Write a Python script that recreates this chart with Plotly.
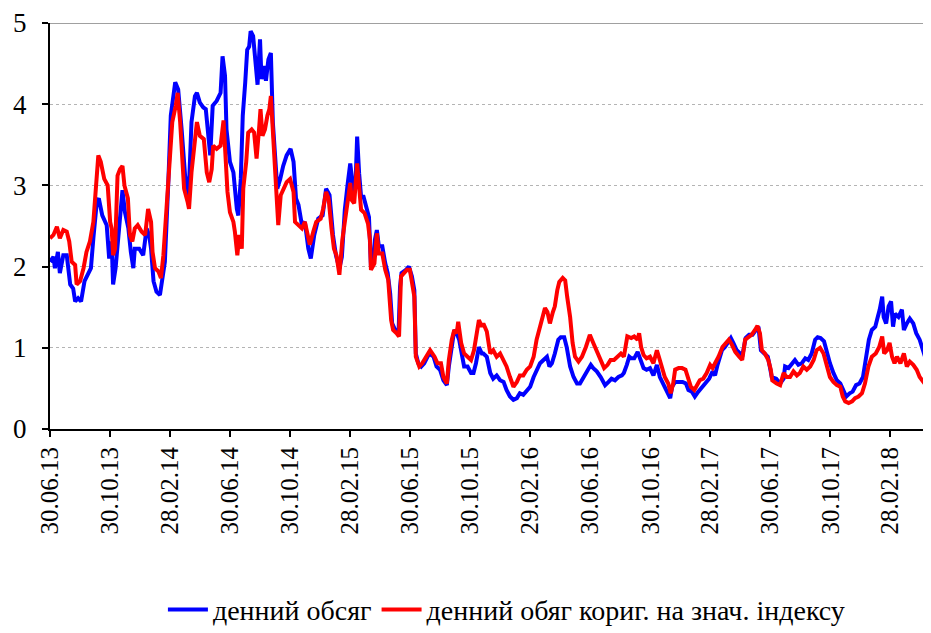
import pandas as pd
import plotly.graph_objects as go

start_date = "2013-06-30"
tick_dates = ["2013-06-30", "2013-10-30", "2014-02-28", "2014-06-30", "2014-10-30",
              "2015-02-28", "2015-06-30", "2015-10-30", "2016-02-29", "2016-06-30",
              "2016-10-30", "2017-02-28", "2017-06-30", "2017-10-30", "2018-02-28"]
tick_labels = ["30.06.13", "30.10.13", "28.02.14", "30.06.14", "30.10.14",
               "28.02.15", "30.06.15", "30.10.15", "29.02.16", "30.06.16",
               "30.10.16", "28.02.17", "30.06.17", "30.10.17", "28.02.18"]
x_end = "2018-05-22"

# days since 30.06.2013
blue_day = [0, 7, 10, 16, 20, 27, 34, 41, 47, 51, 57, 63, 70, 76, 83, 88, 95, 99, 106, 115,
            120, 125, 128, 133, 140, 147, 152, 159, 164, 169, 172, 181, 189, 196, 201, 205, 210, 216, 223, 228,
            233, 240, 245, 254, 260, 267, 274, 281, 287, 294, 298, 304, 311, 316, 321, 325, 330, 338, 346, 350,
            355, 358, 365, 372, 379, 382, 387, 391, 396, 400, 404, 407, 412, 418, 421, 426, 429, 434, 438, 443,
            448, 452, 456, 461, 467, 473, 480, 488, 494, 499, 504, 511, 517, 524, 529, 536, 544, 553, 560, 567,
            574, 580, 587, 592, 595, 598, 604, 609, 612, 615, 620, 623, 627, 631, 636, 642, 647, 651, 656, 659,
            663, 667, 674, 680, 685, 690, 694, 700, 707, 710, 713, 722, 728, 734, 739, 742, 747, 753, 759, 769,
            778, 784, 791, 798, 805, 809, 815, 820, 825, 830, 835, 840, 847, 854, 859, 864, 870, 876, 879, 886,
            893, 899, 906, 913, 920, 926, 933, 940, 947, 953, 960, 967, 974, 981, 987, 994, 1001, 1008, 1013, 1018,
            1024, 1031, 1036, 1043, 1048, 1055, 1062, 1069, 1075, 1082, 1089, 1097, 1102, 1109, 1117, 1126, 1133, 1139, 1146, 1153,
            1160, 1164, 1170, 1175, 1179, 1185, 1192, 1197, 1204, 1210, 1217, 1224, 1231, 1237, 1244, 1251, 1258, 1262, 1268, 1275,
            1283, 1290, 1295, 1302, 1308, 1315, 1323, 1330, 1337, 1344, 1349, 1354, 1363, 1369, 1376, 1381, 1386, 1393, 1400, 1404,
            1411, 1418, 1425, 1431, 1437, 1442, 1449, 1456, 1460, 1464, 1473, 1481, 1488, 1491, 1498, 1505, 1511, 1518, 1525, 1532,
            1538, 1545, 1552, 1557, 1563, 1570, 1576, 1582, 1589, 1596, 1603, 1609, 1615, 1622, 1628, 1635, 1642, 1649, 1656, 1661,
            1667, 1674, 1679, 1683, 1688, 1691, 1696, 1701, 1706, 1710, 1714, 1721, 1728, 1732, 1738, 1744, 1751, 1757, 1764, 1770,
            1777, 1782, 1790]
blue_val = [2.06, 2.12, 1.98, 2.18, 1.92, 2.14, 2.14, 1.78, 1.73, 1.57, 1.61, 1.57, 1.82, 1.90, 1.98, 2.35, 2.80, 2.84, 2.63, 2.51,
            2.10, 2.31, 1.78, 1.98, 2.47, 2.94, 2.67, 2.47, 2.18, 1.98, 2.22, 2.22, 2.14, 2.47, 2.39, 2.22, 1.82, 1.69, 1.65, 1.90,
            2.06, 3.04, 3.86, 4.27, 4.18, 3.69, 3.12, 2.84, 3.78, 4.10, 4.14, 4.02, 3.96, 3.94, 3.57, 3.37, 3.98, 4.04, 4.14, 4.59,
            4.35, 3.69, 3.29, 3.16, 2.71, 2.63, 3.08, 3.86, 4.27, 4.67, 4.71, 4.90, 4.84, 4.39, 4.24, 4.80, 4.31, 4.47, 4.29, 4.55,
            4.63, 3.78, 3.45, 2.96, 3.08, 3.24, 3.37, 3.45, 3.29, 2.84, 2.76, 2.51, 2.55, 2.22, 2.10, 2.39, 2.59, 2.63, 2.96, 2.88,
            2.39, 2.14, 1.98, 2.12, 2.41, 2.70, 3.03, 3.27, 3.11, 2.82, 3.07, 3.60, 3.15, 2.86, 2.86, 2.70, 2.61, 2.00, 2.08, 2.33,
            2.45, 2.25, 2.25, 2.04, 1.92, 1.67, 1.30, 1.22, 1.18, 1.75, 1.92, 1.96, 2.00, 1.88, 1.71, 0.93, 0.81, 0.77, 0.81, 0.93,
            0.89, 0.77, 0.73, 0.60, 0.54, 0.77, 1.01, 1.22, 1.18, 1.10, 0.93, 0.77, 0.77, 0.69, 0.69, 0.81, 1.01, 0.93, 0.93, 0.89,
            0.69, 0.62, 0.66, 0.60, 0.58, 0.48, 0.40, 0.36, 0.38, 0.44, 0.42, 0.48, 0.52, 0.64, 0.73, 0.81, 0.85, 0.89, 0.77, 0.81,
            0.93, 1.10, 1.13, 1.13, 1.01, 0.77, 0.64, 0.56, 0.56, 0.64, 0.71, 0.79, 0.75, 0.71, 0.64, 0.54, 0.58, 0.62, 0.60, 0.64,
            0.66, 0.69, 0.79, 0.89, 0.87, 0.87, 0.95, 0.85, 0.75, 0.73, 0.75, 0.66, 0.79, 0.64, 0.56, 0.48, 0.38, 0.52, 0.58, 0.58,
            0.58, 0.56, 0.48, 0.46, 0.40, 0.46, 0.52, 0.56, 0.62, 0.71, 0.66, 0.79, 0.97, 1.01, 1.08, 1.12, 1.06, 0.97, 0.93, 0.89,
            1.12, 1.16, 1.16, 1.22, 1.26, 0.97, 0.93, 0.89, 0.77, 0.64, 0.62, 0.56, 0.62, 0.77, 0.75, 0.81, 0.85, 0.79, 0.81, 0.87,
            0.85, 0.93, 1.10, 1.13, 1.12, 1.08, 0.93, 0.81, 0.69, 0.60, 0.56, 0.48, 0.40, 0.44, 0.46, 0.54, 0.56, 0.64, 0.89, 1.10,
            1.22, 1.26, 1.38, 1.47, 1.63, 1.38, 1.30, 1.51, 1.57, 1.26, 1.42, 1.38, 1.47, 1.22, 1.30, 1.36, 1.30, 1.18, 1.10, 0.97,
            0.85, 0.89, 1.01]

red_day = [0, 7, 14, 20, 27, 34, 39, 44, 51, 54, 61, 68, 74, 81, 88, 93, 98, 103, 110, 117,
           122, 125, 128, 132, 137, 142, 147, 151, 158, 162, 167, 172, 178, 186, 193, 199, 205, 208, 213, 220,
           225, 230, 235, 239, 243, 248, 255, 259, 264, 268, 272, 279, 282, 287, 291, 298, 304, 312, 318, 323,
           328, 331, 338, 346, 352, 355, 360, 365, 372, 375, 380, 384, 389, 392, 398, 402, 409, 414, 419, 424,
           427, 431, 436, 441, 445, 448, 452, 456, 460, 463, 468, 473, 480, 487, 494, 497, 504, 511, 517, 522,
           527, 534, 540, 549, 554, 560, 565, 571, 576, 581, 587, 593, 598, 604, 609, 612, 617, 623, 627, 631,
           638, 645, 649, 651, 658, 663, 667, 674, 680, 686, 692, 696, 703, 708, 712, 717, 724, 730, 735, 739,
           742, 749, 755, 762, 771, 780, 786, 793, 798, 805, 809, 815, 820, 825, 828, 834, 840, 847, 854, 860,
           865, 870, 876, 879, 886, 893, 899, 906, 913, 920, 926, 933, 940, 947, 953, 960, 967, 974, 981, 987,
           994, 1000, 1004, 1009, 1014, 1020, 1024, 1029, 1033, 1040, 1045, 1049, 1055, 1060, 1065, 1072, 1079, 1087, 1095, 1102,
           1109, 1114, 1124, 1131, 1137, 1144, 1151, 1158, 1164, 1171, 1179, 1185, 1192, 1195, 1199, 1204, 1210, 1217, 1224, 1231,
           1235, 1241, 1247, 1254, 1259, 1264, 1268, 1275, 1282, 1289, 1294, 1300, 1307, 1311, 1318, 1325, 1332, 1339, 1344, 1349,
           1356, 1364, 1371, 1377, 1383, 1390, 1398, 1404, 1410, 1417, 1423, 1430, 1435, 1440, 1444, 1450, 1457, 1462, 1465, 1474,
           1481, 1488, 1494, 1501, 1508, 1515, 1521, 1528, 1535, 1542, 1549, 1555, 1562, 1569, 1576, 1582, 1589, 1596, 1603, 1608,
           1613, 1620, 1627, 1633, 1640, 1647, 1653, 1660, 1667, 1675, 1682, 1688, 1692, 1698, 1703, 1708, 1713, 1718, 1725, 1732,
           1738, 1744, 1751, 1758, 1764, 1771, 1778, 1784, 1790]
red_val = [2.35, 2.39, 2.49, 2.35, 2.45, 2.43, 2.31, 2.06, 2.02, 1.78, 1.82, 1.98, 2.18, 2.31, 2.55, 2.92, 3.37, 3.29, 3.08, 3.00,
           2.55, 2.47, 2.14, 2.22, 3.12, 3.20, 3.24, 3.00, 2.84, 2.39, 2.31, 2.47, 2.51, 2.43, 2.39, 2.71, 2.55, 2.18, 1.98, 1.94,
           1.86, 2.14, 2.55, 3.04, 3.37, 3.78, 3.98, 4.14, 3.78, 3.29, 2.96, 2.80, 2.71, 3.16, 3.37, 3.78, 3.61, 3.57, 3.16, 3.04,
           3.20, 3.49, 3.45, 3.49, 3.80, 3.45, 2.92, 2.67, 2.55, 2.43, 2.14, 2.39, 2.22, 2.96, 3.29, 3.65, 3.69, 3.65, 3.33, 3.69,
           3.94, 3.61, 3.69, 3.86, 3.94, 4.10, 3.61, 3.20, 2.63, 2.51, 2.88, 2.96, 3.04, 3.08, 2.92, 2.55, 2.51, 2.47, 2.55, 2.43,
           2.27, 2.43, 2.55, 2.59, 2.71, 2.92, 2.84, 2.47, 2.22, 2.14, 1.90, 2.33, 2.57, 2.78, 3.03, 2.82, 2.78, 3.27, 3.03, 2.70,
           2.66, 2.53, 2.33, 1.96, 2.04, 2.41, 2.16, 2.16, 1.96, 1.84, 1.34, 1.22, 1.18, 1.14, 1.88, 1.92, 1.96, 1.96, 1.79, 1.63,
           0.89, 0.77, 0.81, 0.89, 0.97, 0.89, 0.81, 0.81, 0.64, 0.56, 0.85, 1.10, 1.22, 1.18, 1.32, 1.06, 0.93, 0.89, 0.85, 0.97,
           1.18, 1.34, 1.26, 1.30, 1.20, 0.93, 0.97, 0.89, 0.93, 0.85, 0.77, 0.64, 0.52, 0.58, 0.66, 0.66, 0.73, 0.77, 0.89, 1.10,
           1.26, 1.38, 1.49, 1.44, 1.30, 1.44, 1.51, 1.71, 1.81, 1.86, 1.83, 1.63, 1.38, 1.06, 0.89, 0.83, 0.89, 1.01, 1.16, 1.06,
           0.97, 0.89, 0.75, 0.79, 0.85, 0.85, 0.89, 0.93, 0.89, 1.14, 1.12, 1.14, 1.10, 1.18, 1.01, 0.91, 0.87, 0.89, 0.81, 0.97,
           0.89, 0.77, 0.64, 0.56, 0.44, 0.56, 0.73, 0.75, 0.75, 0.73, 0.64, 0.52, 0.48, 0.52, 0.60, 0.62, 0.69, 0.79, 0.75, 0.81,
           0.89, 1.01, 1.06, 1.10, 1.04, 0.95, 0.89, 0.85, 1.10, 1.14, 1.16, 1.22, 1.27, 1.18, 0.97, 0.93, 0.85, 0.73, 0.60, 0.56,
           0.54, 0.69, 0.64, 0.64, 0.71, 0.66, 0.69, 0.77, 0.73, 0.77, 0.85, 0.97, 1.00, 0.93, 0.77, 0.64, 0.58, 0.54, 0.52, 0.40,
           0.34, 0.32, 0.34, 0.38, 0.40, 0.44, 0.56, 0.77, 0.89, 0.93, 1.01, 1.14, 0.93, 0.97, 1.06, 0.89, 0.81, 0.89, 0.81, 0.93,
           0.77, 0.83, 0.79, 0.73, 0.64, 0.58, 0.52, 0.48, 0.56]

series_names = ["денний обсяг", "денний обяг кориг. на знач. індексу"]
series_colors = ["#0000FF", "#FF0000"]

t0 = pd.Timestamp(start_date)
blue_x = t0 + pd.to_timedelta(blue_day, unit="D")
red_x = t0 + pd.to_timedelta(red_day, unit="D")

FONT = "Times New Roman, Liberation Serif, Tinos, DejaVu Serif, serif"

fig = go.Figure()
fig.add_trace(go.Scatter(x=blue_x, y=blue_val, mode="lines", name=series_names[0],
                         line=dict(color=series_colors[0], width=4)))
fig.add_trace(go.Scatter(x=red_x, y=red_val, mode="lines", name=series_names[1],
                         line=dict(color=series_colors[1], width=4)))

fig.add_shape(type="line", xref="paper", yref="y", x0=0, x1=1, y0=5, y1=5,
              line=dict(color="#a0a0a0", width=2))

# page body has an 8px margin, so the figure is sized to fill the rest of the window
fig.update_layout(
    width=923, height=625,
    margin=dict(l=42, r=0, t=15, b=204, autoexpand=False),
    plot_bgcolor="white", paper_bgcolor="white",
    font=dict(family=FONT, color="black", size=24),
    showlegend=True,
    legend=dict(orientation="h", xref="container", yref="container",
                x=0.54, xanchor="center", y=0.037, yanchor="middle",
                font=dict(family=FONT, size=28), itemwidth=40,
                tracegroupgap=0, bgcolor="rgba(0,0,0,0)"),
    xaxis=dict(type="date", range=[start_date, x_end], automargin=False,
               tickmode="array", tickvals=tick_dates, ticktext=tick_labels,
               tickangle=-90, tickfont=dict(family=FONT, size=25),
               showgrid=False, showline=True, linecolor="black", linewidth=2,
               ticks="outside", ticklen=6, tickwidth=2, tickcolor="black",
               zeroline=False),
    yaxis=dict(range=[0, 5], tickmode="array", tickvals=[0, 1, 2, 3, 4, 5],
               automargin=False,
               tickfont=dict(family=FONT, size=27),
               showgrid=True, gridcolor="#b4b4b4", griddash="dot", gridwidth=1,
               showline=True, linecolor="black", linewidth=2,
               ticks="outside", ticklen=6, tickwidth=2, tickcolor="black",
               ticklabelstandoff=10, zeroline=False),
)

fig.write_html("out.html")
